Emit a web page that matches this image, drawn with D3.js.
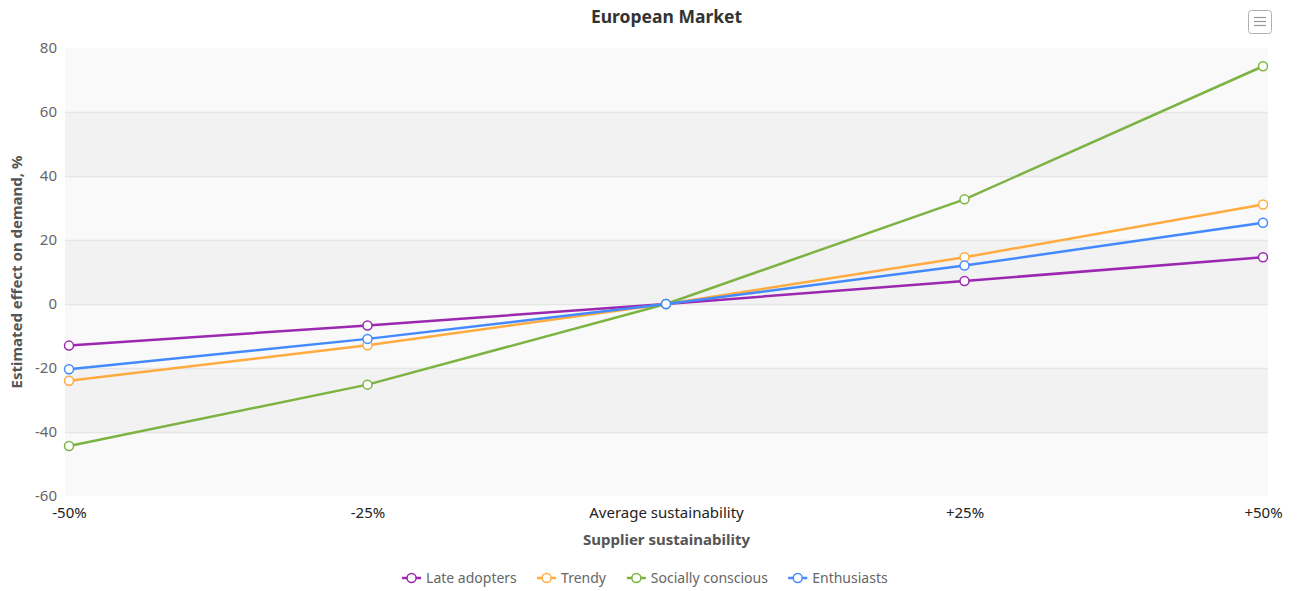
<!DOCTYPE html>
<html>
<head>
<meta charset="utf-8">
<script src="https://cdn.jsdelivr.net/npm/d3@7"></script>
<style>
  body { margin: 0; background: #fff; }
  svg { display: block; font-family: "Noto Sans", sans-serif; }
</style>
</head>
<body>
<svg id="canvas"></svg>
<script>
const WIDTH = 1298;
const HEIGHT = 591;

const categories = ["-50%", "-25%", "Average sustainability", "+25%", "+50%"];
const seriesNames = ["Late adopters", "Trendy", "Socially conscious", "Enthusiasts"];
const lateAdopters = [-13, -6.7, 0, 7.2, 14.6];
const trendy = [-24, -12.9, 0, 14.6, 31.1];
const sociallyConscious = [-44.4, -25.2, 0, 32.7, 74.3];
const enthusiasts = [-20.4, -10.9, 0, 12, 25.4];
const yTicks = [-60, -40, -20, 0, 20, 40, 60, 80];
const colors = ["#9C27B0", "#FFAB40", "#7CB342", "#448AFF"];

const allSeries = [lateAdopters, trendy, sociallyConscious, enthusiasts];

const plot = { left: 65, right: 1268, top: 48, bottom: 496 };

const canvas = d3.select("#canvas").attr("width", WIDTH).attr("height", HEIGHT);

const xScale = d3
  .scalePoint()
  .domain(categories)
  .range([plot.left + 4, plot.right - 5]);

const yScale = d3
  .scaleLinear()
  .domain([-60, 80])
  .range([plot.bottom, plot.top]);

// alternating background bands
const bands = yTicks.slice(0, -1).map((t, i) => ({ from: t, to: yTicks[i + 1], i: i }));
canvas
  .append("g")
  .selectAll("rect")
  .data(bands)
  .enter()
  .append("rect")
  .attr("x", plot.left)
  .attr("width", plot.right - plot.left)
  .attr("y", (d) => yScale(d.to))
  .attr("height", (d) => yScale(d.from) - yScale(d.to))
  .attr("fill", (d) => (d.i % 2 === 0 ? "#f9f9f9" : "#f2f2f2"));

// grid lines
canvas
  .append("g")
  .selectAll("line")
  .data(yTicks.slice(1, -1))
  .enter()
  .append("line")
  .attr("x1", plot.left)
  .attr("x2", plot.right)
  .attr("y1", (d) => yScale(d) + 0.5)
  .attr("y2", (d) => yScale(d) + 0.5)
  .attr("stroke", "#e6e6e6")
  .attr("stroke-width", 1.5);

// y axis (plain hyphen for negatives, like the original)
const yAxis = d3
  .axisLeft(yScale)
  .tickValues(yTicks)
  .tickFormat((d) => String(d))
  .tickSize(0)
  .tickPadding(8);
const yG = canvas
  .append("g")
  .attr("transform", `translate(${plot.left}, 0)`)
  .call(yAxis);
yG.select(".domain").remove();
yG.selectAll("text")
  .attr("fill", "#666")
  .style("font-size", "15px")
  .style("font-family", "'Noto Sans', sans-serif");

// x axis
const xAxis = d3.axisBottom(xScale).tickSize(0).tickPadding(11);
const xG = canvas
  .append("g")
  .attr("transform", `translate(0, ${plot.bottom})`)
  .call(xAxis);
xG.select(".domain").remove();
xG.selectAll("text")
  .attr("fill", "#222")
  .style("font-size", "15px")
  .style("font-family", "'Noto Sans', sans-serif");

// titles
canvas
  .append("text")
  .attr("x", (plot.left + plot.right) / 2)
  .attr("y", 23)
  .attr("text-anchor", "middle")
  .attr("fill", "#333")
  .style("font-size", "17.5px")
  .style("font-weight", "bold")
  .text("European Market");

canvas
  .append("text")
  .attr("x", (plot.left + plot.right) / 2)
  .attr("y", 545)
  .attr("text-anchor", "middle")
  .attr("fill", "#555")
  .style("font-size", "15px")
  .style("font-weight", "bold")
  .text("Supplier sustainability");

canvas
  .append("text")
  .attr("transform", `translate(22, ${(plot.top + plot.bottom) / 2}) rotate(-90)`)
  .attr("text-anchor", "middle")
  .attr("fill", "#555")
  .style("font-size", "15px")
  .style("font-weight", "bold")
  .text("Estimated effect on demand, %");

// lines and markers
const line = d3
  .line()
  .x((d, i) => xScale(categories[i]))
  .y((d) => yScale(d));

allSeries.forEach((values, s) => {
  const g = canvas.append("g");
  g.append("path")
    .datum(values)
    .attr("d", line)
    .attr("fill", "none")
    .attr("stroke", colors[s])
    .attr("stroke-width", 2.5)
    .attr("stroke-linejoin", "round");
  g.selectAll("circle")
    .data(values)
    .enter()
    .append("circle")
    .attr("cx", (d, i) => xScale(categories[i]))
    .attr("cy", (d) => yScale(d))
    .attr("r", 4.5)
    .attr("fill", "#fff")
    .attr("stroke", colors[s])
    .attr("stroke-width", 1.5);
});

// legend
const legend = canvas.append("g");
const items = legend
  .selectAll("g")
  .data(seriesNames)
  .enter()
  .append("g");
items
  .append("line")
  .attr("x1", 0)
  .attr("x2", 19)
  .attr("y1", 0)
  .attr("y2", 0)
  .attr("stroke", (d, i) => colors[i])
  .attr("stroke-width", 2.5);
items
  .append("circle")
  .attr("cx", 9.5)
  .attr("cy", 0)
  .attr("r", 4.5)
  .attr("fill", "#fff")
  .attr("stroke", (d, i) => colors[i])
  .attr("stroke-width", 1.5);
items
  .append("text")
  .attr("x", 24)
  .attr("y", 5)
  .attr("fill", "#666")
  .style("font-size", "14px")
  .text((d) => d);

let offset = 0;
const starts = [];
items.each(function () {
  const w = this.getBBox().width;
  starts.push(offset);
  offset += w + 20;
});
const total = offset - 20;
items.attr("transform", (d, i) => `translate(${645 - total / 2 + starts[i]}, 578)`);

// menu button
const menu = canvas.append("g").attr("transform", "translate(1248, 10)");
menu
  .append("rect")
  .attr("x", 0.5)
  .attr("y", 0.5)
  .attr("width", 23)
  .attr("height", 23)
  .attr("rx", 3)
  .attr("fill", "#fff")
  .attr("stroke", "#b0b0b0");
[7.5, 11.5, 15.5].forEach((y) => {
  menu
    .append("line")
    .attr("x1", 6)
    .attr("x2", 18)
    .attr("y1", y)
    .attr("y2", y)
    .attr("stroke", "#999")
    .attr("stroke-width", 1.2);
});
</script>
</body>
</html>
